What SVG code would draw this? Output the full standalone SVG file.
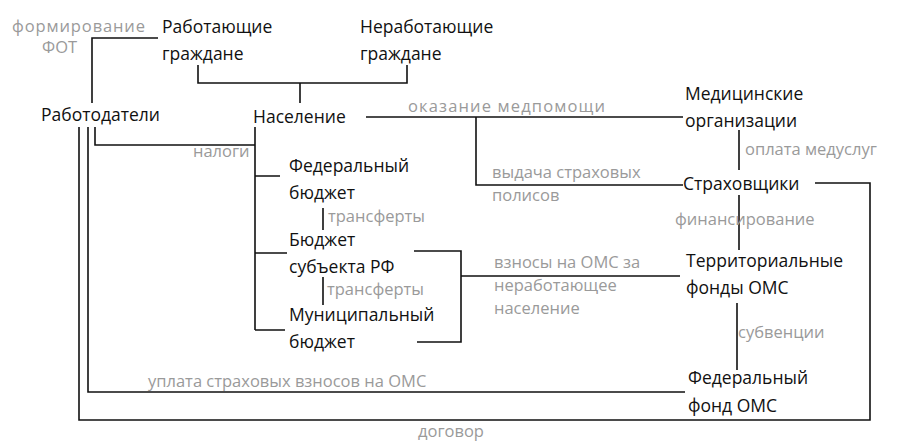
<svg xmlns="http://www.w3.org/2000/svg" width="899" height="445" viewBox="0 0 899 445">
<style>
.n{font-family:"Open Sans","DejaVu Sans",sans-serif;font-size:17.5px;fill:#111}
.l{font-family:"Open Sans","DejaVu Sans",sans-serif;font-size:16.5px;fill:#9a9a9a}
.c{fill:none;stroke:#111;stroke-width:1.6}
</style>
<rect width="899" height="445" fill="#fff"/>
<g id="connectors">
<path class="c" d="M158 38H92V103"/>
<path class="c" d="M198 65V83H407V65M300 83V103"/>
<path class="c" d="M366 117H683M476 117V185H683"/>
<path class="c" d="M95 127V145H255M255 127V330M255 176H280M255 253H287M255 330H285"/>
<path class="c" d="M323 208V230M323 277V305"/>
<path class="c" d="M414 251H461V342H417M461 276H680"/>
<path class="c" d="M739 130V170M739 195V250M737 303V370"/>
<path class="c" d="M815 183H870V420H79V127"/>
<path class="c" d="M88 127V392H685"/>
</g>
<g id="labels">
<text class="l" x="12" y="32" textLength="133">формирование</text>
<text class="l" x="42" y="53">ФОТ</text>
<text class="l" x="408" y="112" textLength="197">оказание медпомощи</text>
<text class="l" x="492" y="178">выдача страховых</text>
<text class="l" x="492" y="201">полисов</text>
<text class="l" x="193" y="157">налоги</text>
<text class="l" x="328" y="222">трансферты</text>
<text class="l" x="327" y="295">трансферты</text>
<text class="l" x="494" y="268">взносы на ОМС за</text>
<text class="l" x="494" y="291">неработающее</text>
<text class="l" x="494" y="314">население</text>
<text class="l" x="745" y="155">оплата медуслуг</text>
<text class="l" x="675" y="225">финансирование</text>
<text class="l" x="738" y="338">субвенции</text>
<text class="l" x="148" y="387">уплата страховых взносов на ОМС</text>
<text class="l" x="418" y="437">договор</text>
</g>
<g id="n-working"><text class="n" x="162" y="33">Работающие</text><text class="n" x="162" y="60">граждане</text></g>
<g id="n-nonworking"><text class="n" x="360" y="33">Неработающие</text><text class="n" x="360" y="60">граждане</text></g>
<g id="n-employers"><text class="n" x="41" y="121">Работодатели</text></g>
<g id="n-population"><text class="n" x="253" y="123">Население</text></g>
<g id="n-med"><text class="n" x="685" y="100">Медицинские</text><text class="n" x="685" y="127">организации</text></g>
<g id="n-fedbudget"><text class="n" x="289" y="172">Федеральный</text><text class="n" x="289" y="199">бюджет</text></g>
<g id="n-subbudget"><text class="n" x="289" y="246">Бюджет</text><text class="n" x="289" y="273">субъекта РФ</text></g>
<g id="n-munbudget"><text class="n" x="289" y="321">Муниципальный</text><text class="n" x="289" y="348">бюджет</text></g>
<g id="n-insurers"><text class="n" x="683" y="190">Страховщики</text></g>
<g id="n-tfoms"><text class="n" x="686" y="267">Территориальные</text><text class="n" x="686" y="294">фонды ОМС</text></g>
<g id="n-ffoms"><text class="n" x="688" y="384">Федеральный</text><text class="n" x="688" y="412">фонд ОМС</text></g>
</svg>
